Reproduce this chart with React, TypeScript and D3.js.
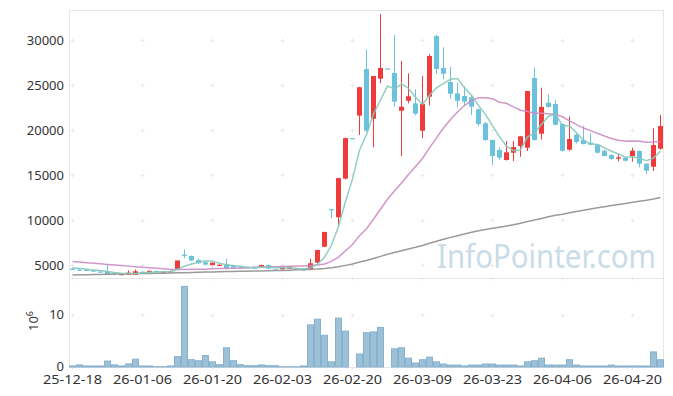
import React from "react";
import * as d3 from "d3";

const dates = [
  "25-12-18","25-12-19","25-12-22","25-12-23","25-12-24","25-12-26","25-12-29","25-12-30",
  "26-01-02","26-01-05","26-01-06","26-01-07","26-01-08","26-01-09","26-01-12","26-01-13","26-01-14","26-01-15","26-01-16","26-01-19","26-01-20","26-01-21","26-01-22","26-01-23","26-01-26","26-01-27","26-01-28","26-01-29","26-01-30",
  "26-02-02","26-02-03","26-02-04","26-02-05","26-02-06","26-02-09","26-02-10","26-02-11","26-02-12","26-02-13","26-02-19","26-02-20","26-02-23","26-02-24","26-02-25","26-02-26","26-02-27",
  "26-03-03","26-03-04","26-03-05","26-03-06","26-03-09","26-03-10","26-03-11","26-03-12","26-03-13","26-03-16","26-03-17","26-03-18","26-03-19","26-03-20","26-03-23","26-03-24","26-03-25","26-03-26","26-03-27","26-03-30","26-03-31",
  "26-04-01","26-04-02","26-04-03","26-04-06","26-04-07","26-04-08","26-04-09","26-04-10","26-04-13","26-04-14","26-04-15","26-04-16","26-04-17","26-04-20","26-04-21","26-04-22","26-04-23","26-04-24"
];

const open = [4600,4500,4470,4400,4280,4250,4050,3880,3900,3900,4250,4200,4350,4200,4150,4500,6150,6000,5550,5300,5000,4980,5100,4950,4750,4750,4720,4780,5000,4500,4520,4590,4670,4590,4440,5260,7030,11200,10300,14600,19100,21600,26780,21250,25700,26850,26330,22140,23250,22960,19920,23700,30440,26890,25330,24070,23780,23630,22300,20740,18890,17780,16670,17480,18220,18030,25780,19590,23030,22890,20670,17810,19480,18890,18590,18370,17700,17220,16810,16920,17110,17670,16260,15920,17920];
const high = [4650,4550,4500,4450,4320,5000,4100,4050,4400,4500,4300,4400,4380,4300,4350,5500,6750,6050,5700,5400,5300,5080,5700,5000,4800,4800,4760,5050,5050,4550,4780,4850,4700,4620,5700,6700,8700,11200,14700,19150,19100,24800,28960,26000,32890,26850,30560,27670,26300,24520,26000,28440,30590,29190,27030,25260,24890,23900,22400,20900,18950,18080,18780,18780,19350,24350,26960,24700,23960,23330,20700,21480,19550,20480,19630,18450,17800,17300,17330,17000,18030,17700,16300,20190,21670];
const low = [4450,4400,4380,4250,4200,3950,3880,3850,3880,3880,4100,4150,4180,4180,4100,4450,5750,5450,5100,4950,4950,4950,4600,4650,4650,4680,4680,4750,4550,4450,4500,4560,4420,4350,4400,5200,7000,10200,9250,14500,19100,19450,19800,18080,25190,26850,22590,17100,22960,21630,19080,22740,26220,25630,23480,22520,22780,21670,20440,18800,16110,16670,16600,16560,17030,17670,18800,18960,22500,20500,17600,17700,18500,18400,18300,17400,17050,16700,16520,16500,16480,15850,15080,15440,17800];
const close = [4500,4450,4420,4280,4230,3980,3900,4000,4150,4300,4150,4350,4200,4250,4300,5500,6050,5500,5200,5050,5250,5030,4650,4700,4700,4700,4700,5000,4600,4470,4740,4810,4440,4370,5190,6670,8670,11200,14650,19100,19100,24750,19920,26000,26890,26850,23150,22590,23740,21810,22890,28220,26780,26260,24030,23250,23150,22590,20670,18890,17110,16920,17520,18110,19300,24330,18890,22560,22560,20590,17700,19000,18670,18440,18370,17480,17110,16780,16960,16590,17700,16260,15480,18330,20440];

// volume, millions
const volume = [0.2,0.4,0.2,0.2,0.2,1.15,0.4,0.2,0.6,1.5,0.2,0.2,0.05,0.05,0.2,2.0,15.5,1.4,1.2,2.2,1.0,0.45,3.7,1.2,0.45,0.25,0.25,0.4,0.25,0.25,0.05,0.05,0.05,0.2,8.1,9.2,6.1,1.0,9.4,6.9,0,2.5,6.6,6.75,7.6,0,3.5,3.7,1.7,0.76,1.4,1.9,1.0,0.57,0.38,0.38,0.2,0.38,0.38,0.57,0.57,0.38,0.38,0.38,0.2,1.0,1.2,1.7,0.38,0.38,0.38,1.4,0.38,0.2,0.2,0.2,0.2,0.38,0.2,0.2,0.2,0.2,0.2,2.9,1.4];

// moving averages
const ma5 = [4700,4620,4530,4450,4376,4272,4162,4078,4052,4066,4100,4190,4230,4250,4250,4520,4860,5120,5310,5460,5410,5206,5036,4936,4866,4756,4690,4760,4740,4694,4702,4724,4612,4566,4710,5096,5868,7220,9276,12058,14544,17760,19504,21774,23332,24882,24562,25096,24644,23628,22836,23850,24688,25192,25636,25708,24694,23856,22738,21710,20482,19236,18222,17710,17792,19236,19630,20638,21528,21786,20460,20482,19704,18880,18436,18392,18014,17636,17340,16984,17028,16858,16598,16872,17642];
const ma20 = [5380,5320,5255,5190,5130,5065,5000,4940,4875,4810,4750,4690,4630,4570,4500,4495,4505,4515,4525,4538,4576,4605,4616,4637,4661,4697,4737,4787,4809,4818,4847,4870,4882,4888,4933,4991,5122,5407,5880,6582,7275,8261,9024,10089,11199,12306,13229,14108,15065,15932,16840,18010,19127,20222,21164,21993,22717,23286,23587,23577,23477,23086,22966,22571,22192,22066,21853,21851,21792,21731,21472,21011,20605,20214,19931,19643,19341,19050,18865,18750,18779,18746,18644,18655,18712];
const ma120 = [3900,3912,3930,3944,3958,3976,3990,4004,4022,4036,4050,4066,4080,4094,4112,4130,4152,4170,4188,4210,4230,4248,4264,4280,4296,4312,4326,4342,4360,4380,4402,4430,4462,4500,4532,4563,4612,4686,4797,4957,5117,5332,5498,5726,5959,6193,6390,6581,6784,6962,7159,7411,7639,7866,8069,8260,8450,8635,8801,8949,9078,9207,9343,9484,9638,9841,9989,10173,10358,10518,10647,10795,10942,11084,11226,11355,11478,11601,11724,11841,11970,12087,12191,12333,12493];

const priceTicks = [5000, 10000, 15000, 20000, 25000, 30000];
const volumeTicks = [0, 10];
const dateTickIdx = [0, 10, 20, 30, 40, 50, 60, 70, 80];

const W = 673, H = 396;
const L = 69, R = 664, TOP = 10, DIV = 278, BOT = 367;

export default function App() {
  const x = d3.scaleBand<string>().domain(dates).range([L, R]).paddingInner(0).paddingOuter(0);
  const bw = x.bandwidth();
  const cx = (i: number) => (x(dates[i]) as number) + bw / 2;
  const y = d3.scaleLinear().domain([5000, 30000]).range([265, 40]);
  const yv = d3.scaleLinear().domain([0, 10]).range([BOT, 315]);

  const line = (arr: number[]) =>
    d3.line<number>().x((_, i) => cx(i)).y((v) => y(v)).curve(d3.curveLinear)(arr) || "";

  const up = "#ef3b3b", down = "#6bc2dc";
  const font = "'Noto Sans', 'Liberation Sans', sans-serif";
  const gridX = dateTickIdx.map((i) => cx(i));
  const gridY = [...priceTicks.map((p) => y(p)), DIV, ...volumeTicks.map((v) => yv(v))];

  return (
    <svg width={W} height={H} style={{ position: "absolute", left: 0, top: 0, background: "#fff" }} fontFamily={font}>
      <rect x={0} y={0} width={W} height={H} fill="#fff" />
      {/* frame */}
      <g stroke="#e6e6e6" strokeWidth={1} fill="none">
        <line x1={L + 0.5} x2={L + 0.5} y1={TOP} y2={BOT} />
        <line x1={R - 0.5} x2={R - 0.5} y1={TOP} y2={BOT} />
        <line x1={L} x2={R} y1={TOP + 0.5} y2={TOP + 0.5} />
        <line x1={L} x2={R} y1={DIV + 0.5} y2={DIV + 0.5} />
        <line x1={L} x2={R} y1={BOT + 0.5} y2={BOT + 0.5} />
      </g>
      {/* grid crosses */}
      <g stroke="#e9e9e9" strokeWidth={1}>
        {gridX.map((gx) =>
          gridY.map((gy) => (
            <g key={gx + "-" + gy}>
              <line x1={gx - 2} x2={gx + 2} y1={Math.round(gy) + 0.5} y2={Math.round(gy) + 0.5} />
              <line x1={gx} x2={gx} y1={Math.round(gy) - 1.5} y2={Math.round(gy) + 2.5} />
            </g>
          ))
        )}
      </g>
      {/* watermark */}
      <text transform="translate(437,268) scale(1,1.15)" x={0} y={0} fontSize={29} fill="#c9dce7" textLength={219} lengthAdjust="spacingAndGlyphs" fontFamily="'Noto Sans', sans-serif">InfoPointer.com</text>

      {/* volume */}
      <g fill="#9cc0d5" stroke="#88b1cf" strokeWidth={1}>
        {volume.map((v, i) =>
          v > 0 ? (
            <rect key={i} x={(x(dates[i]) as number) + 0.5} y={yv(v)} width={bw - 1} height={Math.max(0, BOT - yv(v))} />
          ) : null
        )}
      </g>

      {/* candles */}
      <g>
        {dates.map((d, i) => {
          const o = open[i], c = close[i];
          const col = c > o ? up : down;
          const top = y(Math.max(o, c));
          const bh = Math.max(1.2, Math.abs(y(o) - y(c)));
          return (
            <g key={d}>
              <line x1={cx(i)} x2={cx(i)} y1={y(high[i])} y2={y(low[i])} stroke={col} strokeWidth={1} />
              <rect x={cx(i) - 2.5} y={top} width={5} height={bh} fill={col} />
            </g>
          );
        })}
      </g>

      {/* moving averages */}
      <path d={line(ma120)} fill="none" stroke="#9a9a9a" strokeWidth={1.5} />
      <path d={line(ma20)} fill="none" stroke="#cc8cc4" strokeWidth={1.5} opacity={0.9} />
      <path d={line(ma5)} fill="none" stroke="#86c9bb" strokeWidth={1.5} opacity={0.9} />

      {/* y axis labels */}
      <g fontSize={13} fill="#333" textAnchor="end">
        {priceTicks.map((p) => (
          <text key={p} x={64} y={y(p) + 4.5}>{p}</text>
        ))}
        {volumeTicks.map((v) => (
          <text key={v} x={64} y={yv(v) + 3.5}>{v}</text>
        ))}
      </g>
      <text transform="translate(38,321) rotate(-90)" fontSize={13} fill="#333" textAnchor="middle">
        10<tspan dy={-5} fontSize={9}>6</tspan>
      </text>

      {/* x axis labels */}
      <g fontSize={13} fill="#333" textAnchor="middle">
        {dateTickIdx.map((i) => (
          <text key={i} x={cx(i)} y={384} textLength={59} lengthAdjust="spacingAndGlyphs">{dates[i]}</text>
        ))}
      </g>
    </svg>
  );
}
